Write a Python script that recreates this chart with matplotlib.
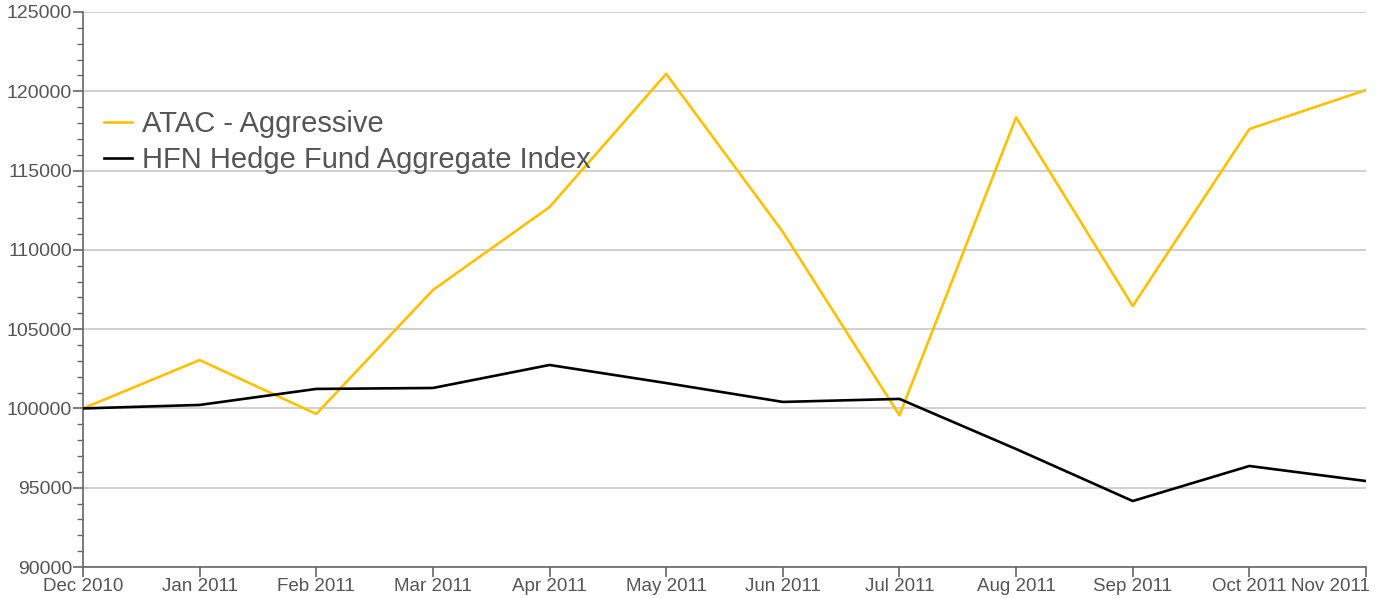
import matplotlib.pyplot as plt
from matplotlib.ticker import MultipleLocator
import matplotlib.transforms as mtransforms

plt.rcParams['font.family'] = ['Liberation Sans', 'DejaVu Sans']

# data
months = ['Dec 2010', 'Jan 2011', 'Feb 2011', 'Mar 2011', 'Apr 2011', 'May 2011',
          'Jun 2011', 'Jul 2011', 'Aug 2011', 'Sep 2011', 'Oct 2011', 'Nov 2011']
atac = [100000, 103050, 99650, 107470, 112700, 121100,
        111130, 99570, 118350, 106460, 117620, 120080]
hfn = [100000, 100220, 101230, 101290, 102740, 101600,
       100410, 100600, 97440, 94160, 96370, 95420]

text_col = '#555555'
axis_col = '#666666'

fig = plt.figure(figsize=(13.77, 5.98), dpi=100)
ax = fig.add_axes([83 / 1377, 31 / 598, (1366 - 83) / 1377, (567 - 12) / 598])

x = list(range(len(months)))
ax.plot(x, atac, color='#FFC000', lw=1.9, label='ATAC - Aggressive', zorder=3)
ax.plot(x, hfn, color='black', lw=1.9, label='HFN Hedge Fund Aggregate Index', zorder=3)

ax.set_xlim(0, len(months) - 1)
ax.set_ylim(90000, 125000)
ax.yaxis.set_major_locator(MultipleLocator(5000))
ax.yaxis.set_minor_locator(MultipleLocator(1000))
ax.set_xticks(x)
ax.set_xticklabels(months)

ax.grid(axis='y', which='major', color='#c8c8c8', lw=1.2)
ax.set_axisbelow(True)

for s in ['top', 'right']:
    ax.spines[s].set_visible(False)
for s in ['left', 'bottom']:
    ax.spines[s].set_color(axis_col)
    ax.spines[s].set_linewidth(1.2)

ax.tick_params(axis='both', which='major', length=7, width=1.2, color=axis_col,
               labelcolor=text_col, labelsize=13.5, pad=1)
ax.tick_params(axis='y', which='major', labelsize=14)
ax.tick_params(axis='y', which='minor', length=4, width=1.0, color=axis_col)

# last x label pushed left so it stays inside the figure
last = ax.get_xticklabels()[-1]
last.set_horizontalalignment('right')
last.set_transform(last.get_transform() + mtransforms.ScaledTranslation(4 / 100, 0, fig.dpi_scale_trans))

leg = ax.legend(loc='upper left', bbox_to_anchor=(104 / 1377, 1 - 110 / 598),
                bbox_transform=fig.transFigure, frameon=False, fontsize=21,
                handlelength=0.95, handletextpad=0.35, labelspacing=0.28,
                borderpad=0, borderaxespad=0)
for t in leg.get_texts():
    t.set_color(text_col)

fig.savefig('out.png', dpi=100)
